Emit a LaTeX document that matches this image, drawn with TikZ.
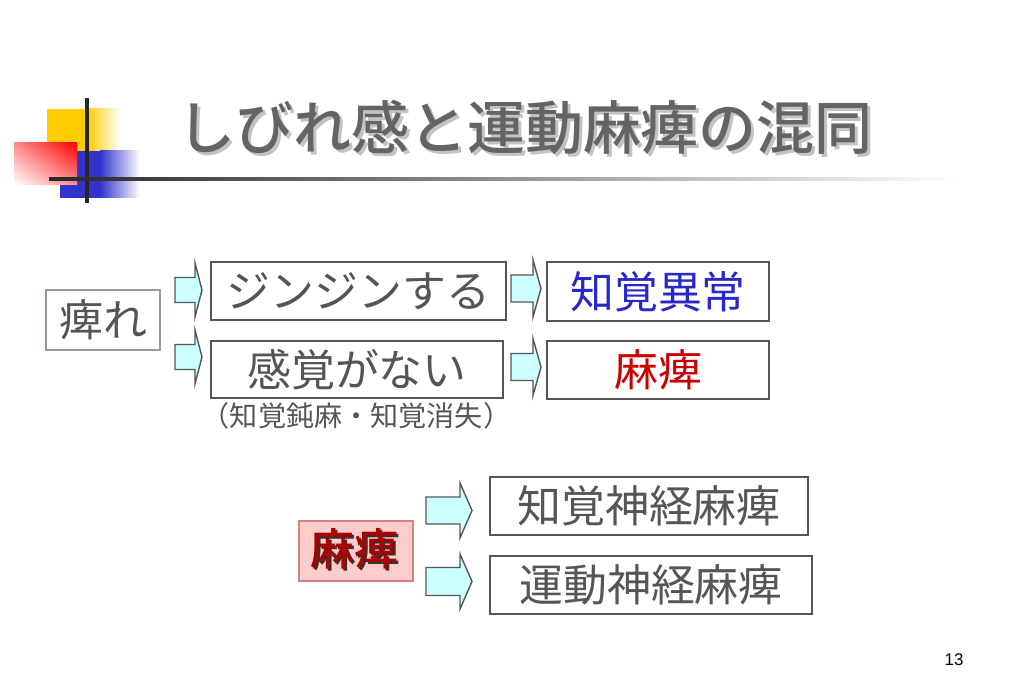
\documentclass[tikz,border=0pt]{standalone}
\usepackage{fontspec}
\usetikzlibrary{shadings}
\setmainfont{Noto Sans CJK JP}
\newfontfamily\titlefont{Noto Sans CJK JP Medium}
\newfontfamily\numfont{Liberation Sans}
\definecolor{txtgray}{RGB}{85,85,85}
\definecolor{boxgray}{RGB}{85,85,85}
\definecolor{lightframe}{RGB}{150,150,170}
\definecolor{titlegray}{RGB}{100,100,100}
\definecolor{shadowgray}{RGB}{195,195,195}
\definecolor{arrowcyan}{RGB}{204,255,255}
\definecolor{logoyellow}{RGB}{255,204,0}
\definecolor{logoblue}{RGB}{51,51,204}
\definecolor{logored}{RGB}{255,0,0}
\definecolor{knowblue}{RGB}{40,40,200}
\definecolor{mahired}{RGB}{200,0,0}
\definecolor{pinkfill}{RGB}{255,204,204}
\definecolor{pinkframe}{RGB}{215,130,130}
\tikzset{
  box/.style={draw=boxgray, line width=0.5pt, minimum height=0.58cm, inner sep=0pt,
    text=txtgray, font=\fontsize{12.5}{15}\selectfont},
  blockarrow/.style={draw=boxgray, fill=arrowcyan, line width=0.4pt},
}
\begin{document}
\begin{tikzpicture}
\useasboundingbox (0,0) rectangle (10.23,6.82);
% logo
\fill[logoyellow] (0.47,5.12) rectangle (0.87,5.73);
\shade[left color=logoyellow, right color=white] (0.87,5.12) rectangle (1.20,5.73);
\fill[logoblue] (0.60,4.84) rectangle (1.00,5.31);
\shade[left color=logoblue, right color=white] (1.00,4.84) rectangle (1.40,5.31);
\shade[upper left=logored!45, upper right=logored, lower left=white, lower right=logored!45] (0.14,4.97) rectangle (0.77,5.39);
\draw[black!85, line width=0.9pt] (0.87,5.84) -- (0.87,4.79);
\shade[left color=black!85, right color=white] (0.49,5.015) rectangle (9.60,5.045);
% title
\node[text=shadowgray, font=\titlefont\fontsize{16.5}{20}\selectfont] (titleshadow) at (5.28,5.52) {しびれ感と運動麻痺の混同};
\node[text=titlegray, font=\titlefont\fontsize{16.5}{20}\selectfont] (title) at (5.25,5.55) {しびれ感と運動麻痺の混同};
% upper chart
\node[box, draw=lightframe, minimum width=1.14cm, minimum height=0.60cm] (shibire) at (1.03,3.62) {痺れ};
\node[box, minimum width=2.95cm] (jinjin) at (3.585,3.91) {ジンジンする};
\node[box, minimum width=2.92cm, minimum height=0.57cm] (kankaku) at (3.57,3.125) {感覚がない};
\node[text=txtgray, font=\fontsize{8}{9}\selectfont, inner sep=0pt] (note) at (3.565,2.66) {（知覚鈍麻・知覚消失）};
\node[box, minimum width=2.22cm, minimum height=0.59cm, text=knowblue] (ijou) at (6.58,3.905) {知覚異常};
\node[box, minimum width=2.22cm, text=mahired] (mahi) at (6.58,3.12) {麻痺};
\draw[blockarrow] (1.75,3.795) -- (1.95,3.795) -- (1.95,3.65) -- (2.02,3.92) -- (1.95,4.19) -- (1.95,4.045) -- (1.75,4.045) -- cycle;
\draw[blockarrow] (1.75,3.125) -- (1.95,3.125) -- (1.95,2.98) -- (2.02,3.25) -- (1.95,3.52) -- (1.95,3.375) -- (1.75,3.375) -- cycle;
\draw[blockarrow] (5.11,3.80) -- (5.33,3.80) -- (5.33,3.65) -- (5.41,3.935) -- (5.33,4.22) -- (5.33,4.07) -- (5.11,4.07) -- cycle;
\draw[blockarrow] (5.11,3.015) -- (5.33,3.015) -- (5.33,2.865) -- (5.41,3.15) -- (5.33,3.435) -- (5.33,3.285) -- (5.11,3.285) -- cycle;
% lower chart
\node[box, draw=pinkframe, fill=pinkfill, minimum width=1.14cm, minimum height=0.60cm, text=black!80, font=\titlefont\fontsize{12.5}{15}\selectfont] (mahishadow) at (3.56,1.31) {麻痺};
\node[text=mahired!85!black, font=\titlefont\fontsize{12.5}{15}\selectfont, inner sep=0pt] (mahib) at (3.54,1.33) {麻痺};
\node[box, minimum width=3.18cm] (chikaku) at (6.49,1.76) {知覚神経麻痺};
\node[box, minimum width=3.22cm] (undou) at (6.51,0.97) {運動神経麻痺};
\draw[blockarrow] (4.26,1.58) -- (4.60,1.58) -- (4.60,1.44) -- (4.72,1.715) -- (4.60,1.99) -- (4.60,1.85) -- (4.26,1.85) -- cycle;
\draw[blockarrow] (4.26,0.865) -- (4.60,0.865) -- (4.60,0.73) -- (4.72,1.005) -- (4.60,1.28) -- (4.60,1.145) -- (4.26,1.145) -- cycle;
% page number
\node[font=\numfont\fontsize{4.8}{6}\selectfont, inner sep=0pt] (page) at (9.54,0.22) {13};
\end{tikzpicture}
\end{document}
